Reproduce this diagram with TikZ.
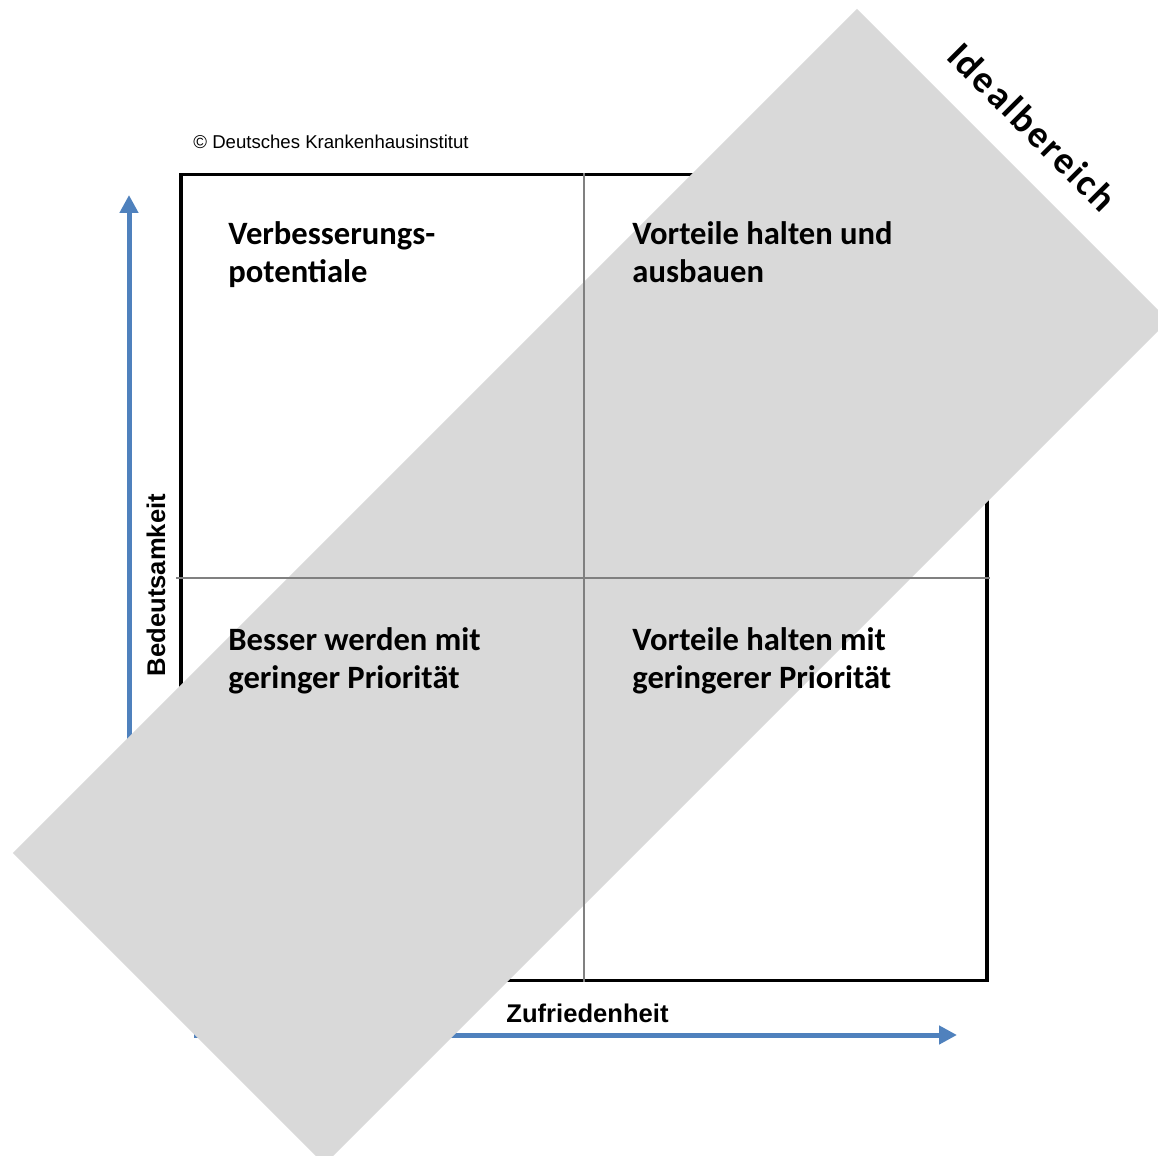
\documentclass[tikz,border=0pt]{standalone}
\usepackage{fontspec}
\usepackage{tikz}
\usetikzlibrary{arrows.meta,positioning}
\newfontfamily\calibri{Carlito}
\newfontfamily\calibrispaced{Carlito}[LetterSpace=6]
\newfontfamily\arial{Liberation Sans}
\definecolor{bandgray}{HTML}{D9D9D9}
\definecolor{axisblue}{HTML}{4F81BD}
\definecolor{midgray}{HTML}{808080}
\tikzstyle{quadbox} = [draw, line width=1.6pt, minimum width=403pt, minimum height=403pt, inner sep=0pt]
\tikzstyle{quadtext} = [align=left, anchor=base west, inner sep=0pt, font=\calibri\bfseries\fontsize{16.3}{19}\selectfont]
\tikzset{
  axis/.style ={draw, line width=2.5pt, axisblue, -{Triangle[length=9pt,width=9pt]}},
  midline/.style ={draw, line width=1pt, midgray},
  band/.style ={fill=bandgray, rotate=45, minimum width=596.8pt, minimum height=220.3pt, inner sep=0pt},
  axistext/.style ={inner sep=0pt, anchor=base, font=\arial\bfseries\fontsize{12.8}{15}\selectfont}
}

\begin{document}
\begin{tikzpicture}[x=0.5pt,y=-0.5pt]
  \useasboundingbox (0,0) rectangle (1158,1156);
  \clip (0,0) rectangle (1158,1156);

  \node[quadbox] (box) at (584,577.5) {};

  \coordinate (yfoot) at (129,960);
  \coordinate (ytip) at (129,195);
  \coordinate (xfoot) at (194,1035);
  \coordinate (xtip) at (957,1035);
  \path[axis] (yfoot) -- (ytip);
  \path[axis] (xfoot) -- (xtip);

  \node[band] (ideal) at (590.75,586.75) {};

  \begin{scope}[every path/.style=midline]
    \path (box.north) -- (box.south);
    \path ([xshift=-1.5pt]box.west) -- ([xshift=0.5pt]box.east);
  \end{scope}

  % anchor base = baseline of the last line
  \node[quadtext] (q1) at (228,283) {Verbesserungs-\\potentiale};
  \node[quadtext] (q2) at (632,283) {Vorteile halten und\\ausbauen};
  \node[quadtext] (q3) at (228,688) {Besser werden mit\\geringer Priorität};
  \node[quadtext] (q4) at (632,688) {Vorteile halten mit\\geringerer Priorität};

  \node[anchor=base, rotate=-45, inner sep=0pt, font=\calibrispaced\bfseries\fontsize{19}{23}\selectfont] (idealtext) at (1023,136) {Idealbereich};

  \node[axistext] (xlabel) at (587.5,1022) {Zufriedenheit};
  \node[axistext, rotate=90] (ylabel) at (165,585) {Bedeutsamkeit};
  \node[anchor=base west, inner sep=0pt, font=\arial\fontsize{9.3}{11}\selectfont] (copy) at (193,149) {© Deutsches Krankenhausinstitut};
\end{tikzpicture}
\end{document}
